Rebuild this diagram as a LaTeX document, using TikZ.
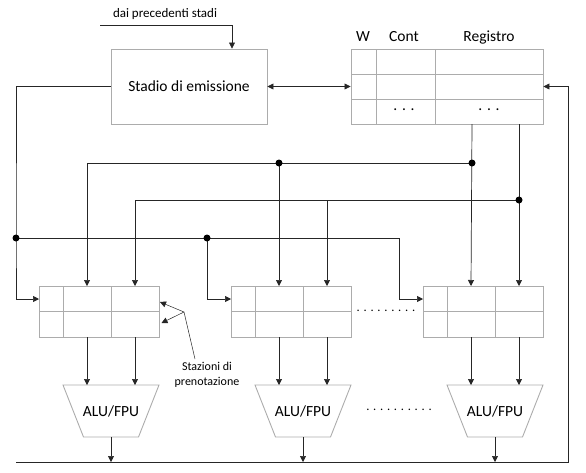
\documentclass[tikz,border=0pt]{standalone}
\usepackage{fontspec}
\setmainfont{Carlito}
\usetikzlibrary{arrows.meta}

\begin{document}
\begin{tikzpicture}[x=1pt,y=-1pt,>={Triangle[length=6pt,width=6pt]}]
	\tikzstyle{every node}=[inner sep=0pt]
	\tikzstyle{box}=[draw=gray!65,line width=0.9pt]
	\tikzstyle{wire}=[draw=black!85,line width=0.7pt]
	\tikzstyle{dot}=[circle,fill=black,minimum size=7pt]
	\tikzstyle{big}=[font=\fontsize{15.5}{18}\selectfont]
	\tikzstyle{small}=[font=\fontsize{12}{15}\selectfont]
	\tikzstyle{station}=[box,rectangle,minimum width=120pt,minimum height=51pt]
	\useasboundingbox (0,0) rectangle (586,472);
	
	\node[box,big,minimum width=156pt,minimum height=75pt] (emiss) at (189,86.5) {Stadio di emissione};
	\node[box,minimum width=192pt,minimum height=75pt] (reg) at (447,86.5) {};
	\draw[box] (351,74) -- (543,74) (351,99) -- (543,99) (376,49) -- (376,124) (435,49) -- (435,124);
	\node[big] (hw) at (363,37) {W};
	\node[big] (hcont) at (404,37) {Cont};
	\node[big] (hreg) at (489,37) {Registro};
	\node[big] (dcont) at (404,110) {. . .};
	\node[big] (dreg) at (489,110) {. . .};
	
	\foreach \x/\n in {39/1,231/2,423/3}{
		\node[station] (rs\n) at (\x+60,311.5) {};
		\draw[box] (\x,311.5) -- (\x+120,311.5) (\x+24,286) -- (\x+24,337) (\x+72,286) -- (\x+72,337);
		\coordinate (rs\n-w) at (\x,299);
		\coordinate (rs\n-a) at (\x+48,286);
		\coordinate (rs\n-b) at (\x+96,286);
		\node[big] (alu\n) at (\x+72,411) {ALU/FPU};
		\draw[box] (\x+24,385) -- (\x+120,385) -- (\x+99.5,437) -- (\x+44.5,437) -- cycle;
		\draw[wire,->] (\x+48,337) -- (\x+48,385);
		\draw[wire,->] (\x+96,337) -- (\x+96,385);
		\draw[wire,->] (\x+72,437) -- (\x+72,462);
	}
	
	\coordinate (src) at (100,25);
	\node[font=\fontsize{13}{15}\selectfont] (srclab) at (165,14) {dai precedenti stadi};
	\draw[wire,->] (src) -| ([xshift=43pt]emiss.north);
	\draw[wire,<->] (emiss.east) -- (reg.west);
	
	\coordinate (jl) at (16,238);
	\coordinate (jm) at (207,238);
	\coordinate (jr) at (399,238);
	\draw[wire,->] (emiss.west) -| (jl) |- (rs1-w);
	\draw[wire,->] (jl) -- (jr) |- (rs3-w);
	\draw[wire,->] (jm) |- (rs2-w);
	
	\coordinate (ra) at (472,124);
	\coordinate (rb) at (519,124);
	\coordinate (ja) at (472,163);
	\coordinate (jb) at (519,200);
	\coordinate (jc) at (279,163);
	\coordinate (jd) at (327,200);
	\draw[wire,->] (ra) -- (rs3-a);
	\draw[wire,->] (rb) -- (rs3-b);
	\draw[wire,->] (ja) -| (rs1-a);
	\draw[wire,->] (jb) -| (rs1-b);
	\draw[wire,->] (jc) -- (rs2-a);
	\draw[wire,->] (jd) -- (rs2-b);
	
	\node[dot] (d1) at (jl) {};
	\node[dot] (d2) at (jm) {};
	\node[dot] (d3) at (ja) {};
	\node[dot] (d4) at (jb) {};
	\node[dot] (d5) at (jc) {};
	
	\coordinate (busl) at (16,462);
	\coordinate (busr) at (568,462);
	\draw[wire,->] (busl) -- (busr) |- (reg.east);
	
	\coordinate (ann) at (184,312);
	\coordinate (anna) at (160,302);
	\coordinate (annb) at (161.5,323);
	\coordinate (annc) at (195,359);
	\node[small,align=center] (annlab) at (207,375) {Stazioni di\\prenotazione};
	\draw[wire,line width=0.5pt,->] (ann) -- (anna);
	\draw[wire,line width=0.5pt,->] (ann) -- (annb);
	\draw[wire,line width=0.5pt] (ann) -- (annc);
	
	\node[font=\fontsize{12.5}{15}\selectfont] (gap1) at (386,311) {. . . . . . . . .};
	\node[font=\fontsize{12.5}{15}\selectfont] (gap2) at (399,410) {. . . . . . . . . .};
\end{tikzpicture}
\end{document}
